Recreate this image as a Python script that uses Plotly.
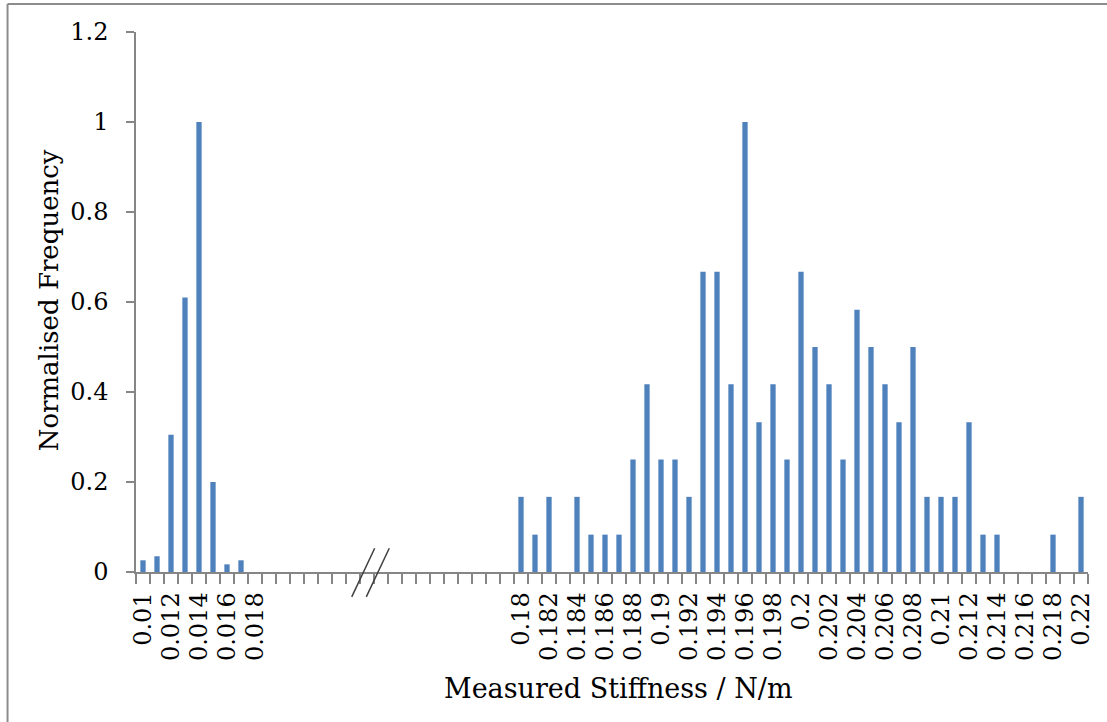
import plotly.graph_objects as go

# Stiffness bins (N/m) and normalised frequencies for the two populations
low_stiffness = ["0.01", "0.011", "0.012", "0.013", "0.014", "0.015", "0.016", "0.017", "0.018"]
low_freq = [0.026, 0.035, 0.305, 0.61, 1.0, 0.2, 0.017, 0.026, 0.0]

# empty bins between the two populations (axis is broken here)
gap_bins = 18

high_stiffness = ["0.18", "0.181", "0.182", "0.183", "0.184", "0.185", "0.186", "0.187",
                  "0.188", "0.189", "0.19", "0.191", "0.192", "0.193", "0.194", "0.195",
                  "0.196", "0.197", "0.198", "0.199", "0.2", "0.201", "0.202", "0.203",
                  "0.204", "0.205", "0.206", "0.207", "0.208", "0.209", "0.21", "0.211",
                  "0.212", "0.213", "0.214", "0.215", "0.216", "0.217", "0.218", "0.219",
                  "0.22"]
high_freq = [0.167, 0.083, 0.167, 0.0, 0.167, 0.083, 0.083, 0.083,
             0.25, 0.417, 0.25, 0.25, 0.167, 0.667, 0.667, 0.417,
             1.0, 0.333, 0.417, 0.25, 0.667, 0.5, 0.417, 0.25,
             0.583, 0.5, 0.417, 0.333, 0.5, 0.167, 0.167, 0.167,
             0.333, 0.083, 0.083, 0.0, 0.0, 0.0, 0.083, 0.0,
             0.167]

y_ticks = [0, 0.2, 0.4, 0.6, 0.8, 1.0, 1.2]

# category slot positions along the x axis
low_x = list(range(len(low_stiffness)))
high_start = len(low_stiffness) + gap_bins
high_x = [high_start + i for i in range(len(high_stiffness))]
n_slots = high_start + len(high_stiffness)

# label every second bin in each group
tick_vals = low_x[::2] + high_x[::2]
tick_text = low_stiffness[::2] + high_stiffness[::2]

BAR = "#4F81BD"
AXIS = "#868686"
FONT = "DejaVu Serif"

fig = go.Figure()
fig.add_trace(go.Bar(x=low_x, y=low_freq, marker=dict(color=BAR, line=dict(width=0)),
                     showlegend=False))
fig.add_trace(go.Bar(x=high_x, y=high_freq, marker=dict(color=BAR, line=dict(width=0)),
                     showlegend=False))

W, H = 1107, 722
ml, mr, mt, mb = 136, 15, 32, 150
pw, ph = W - ml - mr, H - mt - mb


def px_x(p):
    return (p - ml) / pw


def px_y(p):
    return (H - mb - p) / ph


shapes = []
# outer chart frame (left and top edges)
shapes.append(dict(type="line", xref="paper", yref="paper",
                   x0=px_x(7), x1=px_x(W + 5), y0=px_y(4), y1=px_y(4),
                   line=dict(color="#8c8c8c", width=2)))
shapes.append(dict(type="line", xref="paper", yref="paper",
                   x0=px_x(7), x1=px_x(7), y0=px_y(4), y1=px_y(H + 5),
                   line=dict(color="#8c8c8c", width=2)))

# axis break marks "//"
for c in (15.73, 16.77):
    shapes.append(dict(type="line", xref="x", yref="paper",
                       x0=c - 0.82, x1=c + 0.82, y0=-0.046, y1=0.044,
                       line=dict(color="#404040", width=1.5)))

fig.update_layout(
    width=W, height=H,
    margin=dict(l=ml, r=mr, t=mt, b=mb),
    paper_bgcolor="white", plot_bgcolor="white",
    bargap=0.62,
    font=dict(family=FONT, size=24, color="black"),
    shapes=shapes,
    xaxis=dict(
        range=[-0.5, n_slots - 0.5],
        tickmode="array", tickvals=tick_vals, ticktext=tick_text,
        tickangle=-90, ticks="", ticklabelstandoff=9,
        tickfont=dict(family=FONT, size=24, color="black"),
        showline=True, linecolor=AXIS, linewidth=1.5,
        showgrid=False, zeroline=False,
        minor=dict(tickmode="array", tickvals=[i - 0.5 for i in range(n_slots + 1)],
                   ticks="outside", ticklen=10, tickcolor=AXIS, tickwidth=1.5,
                   showgrid=False),
    ),
    yaxis=dict(
        range=[0, 1.2],
        tickmode="array", tickvals=y_ticks,
        ticks="outside", ticklen=8, tickcolor=AXIS, tickwidth=1.5,
        ticklabelstandoff=13,
        tickfont=dict(family=FONT, size=24, color="black"),
        showline=True, linecolor=AXIS, linewidth=1.5,
        showgrid=False, zeroline=False,
    ),
    annotations=[
        dict(text="Measured Stiffness / N/m", xref="paper", yref="paper",
             x=px_x(621), y=px_y(688), showarrow=False,
             xanchor="center", yanchor="middle",
             font=dict(family=FONT, size=27, color="black")),
        dict(text="Normalised Frequency", xref="paper", yref="paper",
             x=px_x(49), y=px_y(300), showarrow=False, textangle=-90,
             xanchor="center", yanchor="middle",
             font=dict(family=FONT, size=26, color="black")),
    ],
)

fig.write_html("out.html")
